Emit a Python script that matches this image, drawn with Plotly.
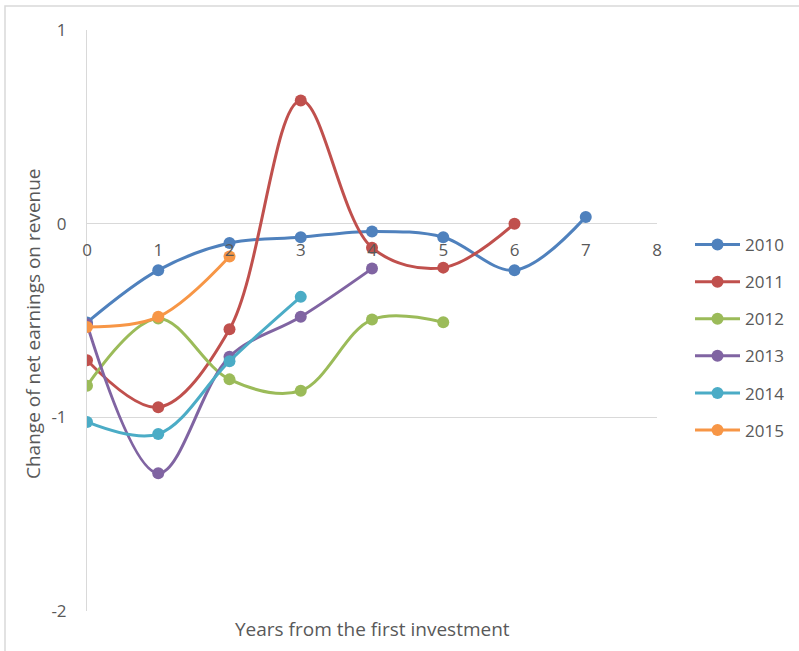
import plotly.graph_objects as go

years = [0, 1, 2, 3, 4, 5, 6, 7]
series_names = ["2010", "2011", "2012", "2013", "2014", "2015"]
s2010 = [-0.51, -0.24, -0.10, -0.07, -0.04, -0.07, -0.24, 0.035]
s2011 = [-0.705, -0.948, -0.545, 0.636, -0.124, -0.227, 0.0]
s2012 = [-0.837, -0.49, -0.804, -0.863, -0.495, -0.509]
s2013 = [-0.52, -1.289, -0.687, -0.481, -0.232]
s2014 = [-1.024, -1.086, -0.71, -0.378]
s2015 = [-0.533, -0.481, -0.169]
colors = ["#4F81BD", "#C0504D", "#9BBB59", "#8064A2", "#4BACC6", "#F79646"]
x_ticks = [0, 1, 2, 3, 4, 5, 6, 7, 8]
y_ticks = [-2, -1, 0, 1]
y_ticktext = ["-2", "-1", "0", "1"]

all_series = [s2010, s2011, s2012, s2013, s2014, s2015]
FONT = "Open Sans"
TXT = "#595959"
GRID = "#D9D9D9"

fig = go.Figure()
for name, vals, col in zip(series_names, all_series, colors):
    fig.add_trace(go.Scatter(
        x=years[:len(vals)], y=vals, name=name, mode="lines+markers",
        line=dict(color=col, width=3, shape="spline", smoothing=1.0),
        marker=dict(color=col, size=12),
        legendgroup=name,
    ))

W, H = 799, 651
L, R, T, B = 87, 142, 30, 40
pw, ph = W - L - R, H - T - B

def px_x(p):
    return (p - L) / pw

def px_y(p):
    return (H - B - p) / ph

fig.update_layout(
    width=W, height=H,
    margin=dict(l=L, r=R, t=T, b=B, autoexpand=False),
    paper_bgcolor="white", plot_bgcolor="white",
    font=dict(family=FONT, color=TXT, size=17),
    showlegend=True,
    legend=dict(x=px_x(690), y=px_y(227), xanchor="left", yanchor="top",
                font=dict(size=17, color=TXT), tracegroupgap=12,
                bgcolor="rgba(0,0,0,0)", itemwidth=45),
    xaxis=dict(range=[0, 8], tickvals=x_ticks, showgrid=False, zeroline=False,
               showline=False, anchor="free", position=2/3,
               ticks="outside", ticklen=11, tickcolor="rgba(0,0,0,0)",
               tickfont=dict(size=17, color=TXT)),
    yaxis=dict(range=[-2, 1], tickvals=y_ticks, ticktext=y_ticktext,
               showgrid=True, gridcolor=GRID,
               gridwidth=1, zeroline=False, showline=True, linecolor=GRID,
               linewidth=1, ticks="outside", ticklen=16, tickcolor="rgba(0,0,0,0)",
               tickfont=dict(size=17, color=TXT)),
    annotations=[
        dict(text="Years from the first investment", x=px_x(372), y=px_y(629),
             xref="paper", yref="paper", showarrow=False,
             font=dict(size=19, color=TXT), xanchor="center", yanchor="middle"),
        dict(text="Change of net earnings on revenue", x=px_x(33), y=px_y(324),
             xref="paper", yref="paper", showarrow=False, textangle=-90,
             font=dict(size=19, color=TXT), xanchor="center", yanchor="middle"),
    ],
    shapes=[
        dict(type="rect", xref="paper", yref="paper",
             x0=px_x(5), x1=px_x(810), y0=px_y(660), y1=px_y(6),
             line=dict(color=GRID, width=1.5), fillcolor="rgba(0,0,0,0)",
             layer="below"),
    ],
)

fig.write_html("out.html")
